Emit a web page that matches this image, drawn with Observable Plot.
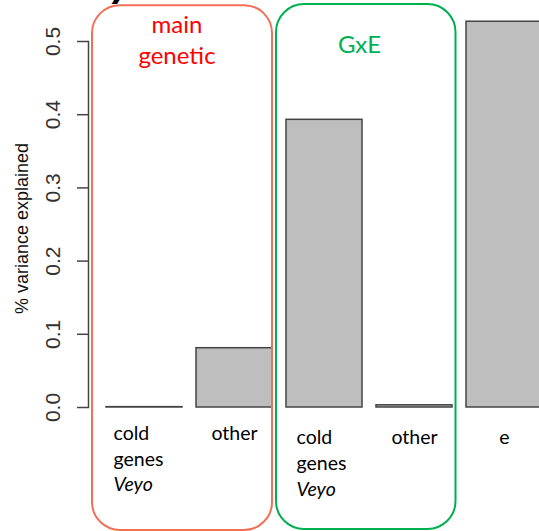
<!DOCTYPE html>
<html><head><meta charset="utf-8">
<script src="https://cdn.jsdelivr.net/npm/d3@7"></script>
<script src="https://cdn.jsdelivr.net/npm/@observablehq/plot@0.6"></script>
<style>
html,body{margin:0;padding:0;background:#fff;overflow:hidden;width:539px;height:531px;}
#chart svg{display:block;}
</style></head><body><div id="chart"></div>
<script>
// ---- data ----
const keys = ["main_cold", "main_other", "gxe_cold", "gxe_other", "e"];
const values = [0.0005, 0.081, 0.393, 0.003, 0.527];
const groupOf = ["main", "main", "gxe", "gxe", "none"];
const line1 = ["cold", "other", "cold", "other", "e"];
const line2 = ["genes", "", "genes", "", ""];
const line3 = ["Veyo", "", "Veyo", "", ""];
const yTicks = [0, 0.1, 0.2, 0.3, 0.4, 0.5];
const groupTitles = ["main\ngenetic", "GxE"];
const groupFirst = ["main_cold", "gxe_cold"];
const groupLast = ["main_other", "gxe_other"];
const axisLabel = "% variance explained";
const panelTag = ")";

const rows = keys.map((k, i) => ({key: k, value: values[i], group: groupOf[i], l1: line1[i], l2: line2[i], l3: line3[i]}));
const groups = groupTitles.map((t, i) => ({title: t, a: groupFirst[i], b: groupLast[i]}));

const catFont = {fontFamily: "Lato, Carlito, Calibri, sans-serif", fontSize: 19.5, fill: "#000"};
const lab = (data, field, opts) => Plot.text(data, {x: "key", y: () => 0, text: field, lineAnchor: "bottom", ...catFont, ...opts});
const mainMulti = rows.filter(d => d.group === "main" && d.l2);
const gxeMulti = rows.filter(d => d.group === "gxe" && d.l2);
const mainSingle = rows.filter(d => d.group === "main" && !d.l2);
const otherSingle = rows.filter(d => d.group !== "main" && !d.l2);

const plot = Plot.plot({
  width: 539, height: 531,
  marginTop: 41, marginBottom: 124, marginLeft: 88, marginRight: 0,
  x: {domain: keys, range: [106, 544], paddingInner: 0.16, paddingOuter: 0, align: 0, axis: null},
  y: {domain: [0, 0.5], range: [407, 41], axis: null},
  style: {background: "white", overflow: "hidden"},
  marks: [
    Plot.barY(rows, {x: "key", y: "value", fill: "#bebebe", stroke: "#444", strokeWidth: 1.5}),
    Plot.frame({anchor: "left", stroke: "#444", strokeWidth: 1.5}),
    Plot.axisY(yTicks, {anchor: "left", tickSize: 11, tickPadding: 18, tickRotate: -90,
      tickFormat: d3.format(".1f"), fontSize: 21, fontFamily: "Liberation Sans, Arial, sans-serif",
      stroke: "#444", strokeWidth: 1.5, fill: "#333", label: null}),
    Plot.text([axisLabel], {frameAnchor: "left", textAnchor: "middle", rotate: -90, dx: -66, dy: 4, fontSize: 18,
      fontFamily: "Liberation Sans, Arial, sans-serif", fill: "#111", text: d => d}),
    // category labels
    lab(mainMulti, "l1", {textAnchor: "start", dx: -31, dy: 32}),
    lab(mainMulti, "l2", {textAnchor: "start", dx: -31, dy: 58}),
    lab(mainMulti, "l3", {textAnchor: "start", dx: -31, dy: 83, fontStyle: "italic"}),
    lab(gxeMulti, "l1", {textAnchor: "start", dx: -28, dy: 36}),
    lab(gxeMulti, "l2", {textAnchor: "start", dx: -28, dy: 62}),
    lab(gxeMulti, "l3", {textAnchor: "start", dx: -28, dy: 88, fontStyle: "italic"}),
    lab(mainSingle, "l1", {dy: 32}),
    lab(otherSingle, "l1", {dy: 36}),
    // group boxes
    Plot.rect(groups.slice(0, 1), {x1: "a", x2: "b", y1: () => -0.168, y2: () => 0.549, rx: 28,
      insetLeft: -14, fill: "none", stroke: "#f36f56", strokeWidth: 2}),
    Plot.rect(groups.slice(1, 2), {x1: "a", x2: "b", y1: () => -0.1667, y2: () => 0.5505, rx: 28,
      insetLeft: -10, insetRight: -3.5, fill: "none", stroke: "#00b050", strokeWidth: 2}),
    Plot.text(groups.slice(0, 1), {x: "a", y: () => 0.5, text: "title", lineAnchor: "bottom", lineHeight: 1.29,
      dx: 32.5, dy: 22, fontFamily: "Lato, Carlito, Calibri, sans-serif", fontSize: 24, fill: "#ff0000"}),
    Plot.text(groups.slice(1, 2), {x: "a", y: () => 0.5, text: "title", lineAnchor: "bottom",
      dx: 35, dy: 11, fontFamily: "Lato, Carlito, Calibri, sans-serif", fontSize: 24, fill: "#00b050"}),
    Plot.text([panelTag], {x: () => keys[0], y: () => 0.5, text: d => d, textAnchor: "start", lineAnchor: "bottom",
      dx: -33, dy: -46, fontSize: 40, fontWeight: "bold", fontFamily: "Liberation Sans, Arial, sans-serif", fill: "#000"})
  ]
});
document.getElementById("chart").appendChild(plot);
</script>
</body></html>
